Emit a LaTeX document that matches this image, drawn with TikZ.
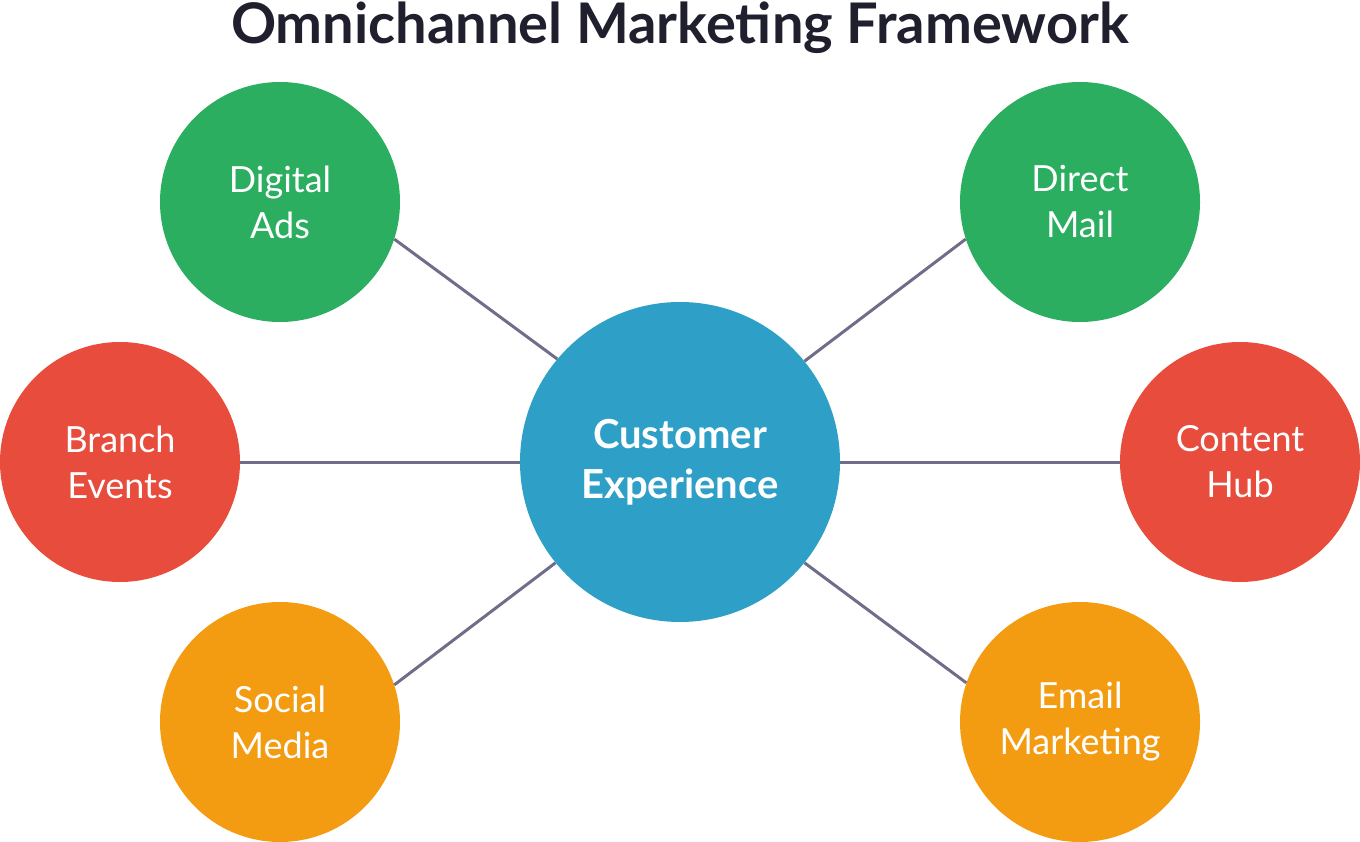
\documentclass[tikz,border=0pt]{standalone}
\usepackage{fontspec}
\setmainfont{Lato}
\definecolor{cgreen}{HTML}{2BAE60}
\definecolor{cred}{HTML}{E74C3C}
\definecolor{corange}{HTML}{F39C12}
\definecolor{cblue}{HTML}{2E9FC7}
\definecolor{cline}{HTML}{6F6D8A}
\definecolor{ctitle}{HTML}{1F1F2E}
\begin{document}
\begin{tikzpicture}[x=1pt,y=-1pt,
  sat/.style={circle,minimum size=240pt,inner sep=0pt,text=white,align=center,font=\fontsize{36}{46}\selectfont},
  hub/.style={circle,minimum size=320pt,inner sep=0pt,fill=cblue,text=white,align=center,font=\bfseries\fontsize{40}{50}\selectfont},
  link/.style={draw=cline,line width=3pt}]
\useasboundingbox (0,0) rectangle (1360,842);
\node[font=\bfseries\fontsize{56}{60}\selectfont,text=ctitle] (title) at (680,28) {Omnichannel Marketing Framework};
\node[hub] (c) at (680,462) {Customer\\Experience};
\node[sat,fill=cgreen] (da) at (280,202) {Digital\\Ads};
\node[sat,fill=cgreen] (dm) at (1080,202) {Direct\\Mail};
\node[sat,fill=cred] (be) at (120,462) {Branch\\Events};
\node[sat,fill=cred] (ch) at (1240,462) {Content\\Hub};
\node[sat,fill=corange] (sm) at (280,722) {Social\\Media};
\node[sat,fill=corange] (em) at (1080,722) {Email\\Marketing};
\draw[link] (da.-18.4) -- (c.140.3);
\draw[link] (dm.198.4) -- (c.39.7);
\draw[link] (be.east) -- (c.west);
\draw[link] (ch.west) -- (c.east);
\draw[link] (sm.18.4) -- (c.219.7);
\draw[link] (em.161.6) -- (c.-39.7);
\end{tikzpicture}
\end{document}
